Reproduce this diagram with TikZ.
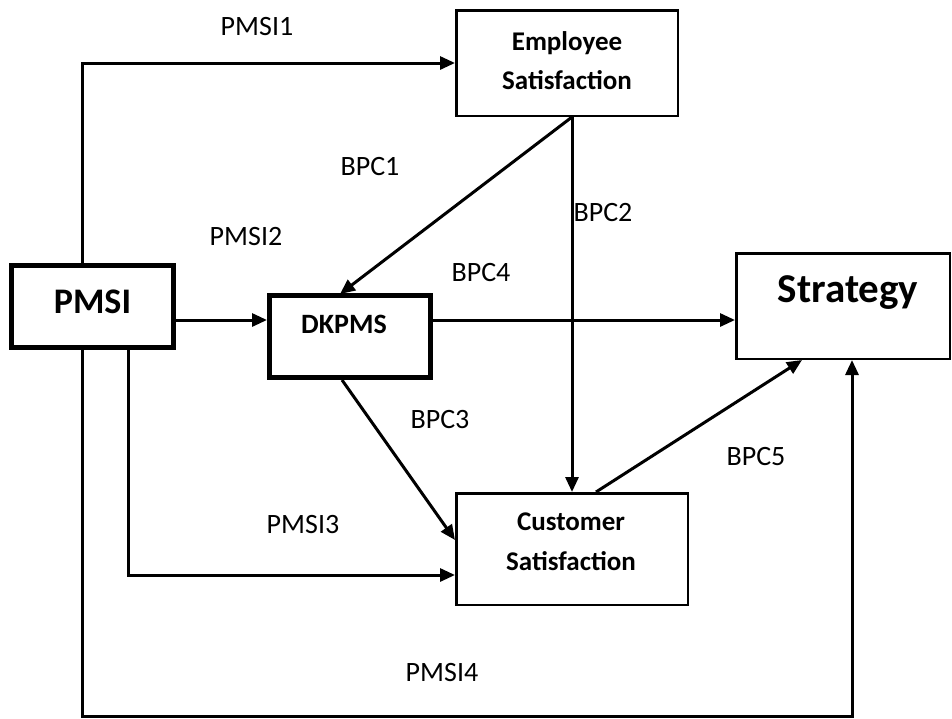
\documentclass[tikz,border=0pt]{standalone}
\usepackage{fontspec}
\setmainfont{Carlito}
\usetikzlibrary{arrows.meta}
\tikzset{
  thinbox/.style={draw, line width=2.5pt, inner sep=0pt},
  thickbox/.style={draw, line width=5pt, inner sep=0pt},
  boxtext/.style={anchor=base, inner sep=0pt, font=\bfseries\fontsize{27}{32}\selectfont},
  conn/.style={line width=3pt, -{Triangle[length=15pt,width=13pt]}},
  lab/.style={font=\fontsize{28}{32}\selectfont, inner sep=0pt}
}
\begin{document}
\begin{tikzpicture}[x=1pt,y=-1pt]
\useasboundingbox (0,0) rectangle (952,718);
% boxes
\node[thickbox, minimum width=162pt, minimum height=82pt] (pmsi) at (92.5,306.5) {};
\node[thickbox, minimum width=161pt, minimum height=82pt] (dk) at (350,336.5) {};
\node[thinbox, minimum width=221.5pt, minimum height=105.5pt] (emp) at (567,63) {};
\node[thinbox, minimum width=213.5pt, minimum height=105.5pt] (str) at (843,306) {};
\node[thinbox, minimum width=231.5pt, minimum height=111.5pt] (cus) at (572,549) {};
% box texts
\node[boxtext, font=\bfseries\fontsize{36}{40}\selectfont] (pmsit) at (92.5,313) {PMSI};
\node[boxtext, font=\bfseries\fontsize{28}{32}\selectfont] (dkt) at (344,333) {DKPMS};
\node[boxtext] (empa) at (567,50) {Employee};
\node[boxtext] (empb) at (567,89) {Satisfaction};
\node[boxtext, font=\bfseries\fontsize{41}{46}\selectfont] (strt) at (848,302) {Strategy};
\node[boxtext] (cusa) at (571,530) {Customer};
\node[boxtext] (cusb) at (571,570) {Satisfaction};
% helper coordinates
\coordinate (row) at (0,320);
\coordinate (vx) at (572,0);
\coordinate (xa) at (82,0);
\coordinate (xb) at (128,0);
\coordinate (xc) at (852,0);
\coordinate (xd) at (340,0);
\coordinate (xe) at (342,0);
\coordinate (xf) at (596,0);
\coordinate (xg) at (802,0);
\coordinate (ya) at (0,540);
\coordinate (yb) at (0,575);
\coordinate (bot) at (82,716.5);
% connectors
\draw[conn] (pmsi.north -| xa) |- (emp.west);
\draw[conn] (pmsi.east |- row) -- (dk.west |- row);
\draw[conn] (dk.east |- row) -- (str.west |- row);
\draw[conn] (emp.south -| vx) -- ([yshift=-1pt]dk.north -| xd);
\draw[conn] (emp.south -| vx) -- (cus.north -| vx);
\draw[conn] (dk.south -| xe) -- (cus.west |- ya);
\draw[conn] (cus.north -| xf) -- (str.south -| xg);
\draw[conn] (pmsi.south -| xb) |- (cus.west |- yb);
\draw[conn] (pmsi.south -| xa) -- (bot) -| (str.south -| xc);
% labels
\node[lab] (l1) at (257,27) {PMSI1};
\node[lab] (l2) at (370,167) {BPC1};
\node[lab] (l3) at (246,237) {PMSI2};
\node[lab] (l4) at (481,273) {BPC4};
\node[lab] (l5) at (603,213) {BPC2};
\node[lab] (l6) at (440,420) {BPC3};
\node[lab] (l7) at (756,457) {BPC5};
\node[lab] (l8) at (303,524) {PMSI3};
\node[lab] (l9) at (442,672) {PMSI4};
\end{tikzpicture}
\end{document}
